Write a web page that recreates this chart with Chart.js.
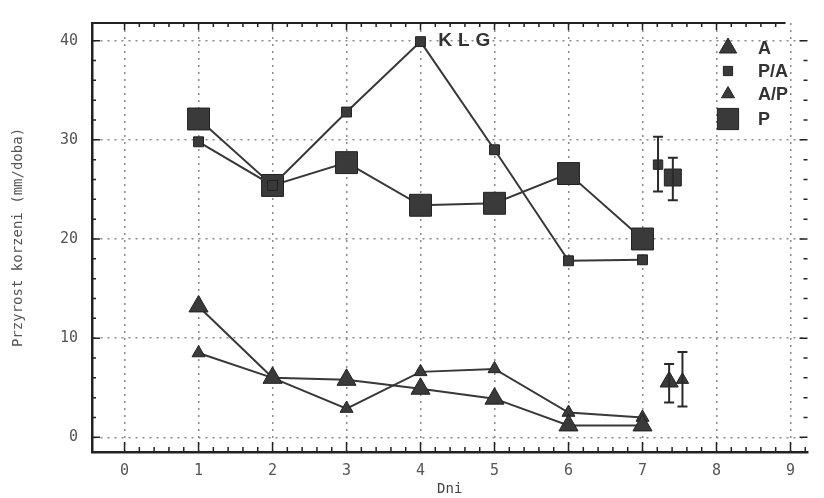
<!DOCTYPE html>
<html>
<head>
<meta charset="utf-8">
<script src="https://cdn.jsdelivr.net/npm/chart.js@4"></script>
<style>
  html, body { margin: 0; padding: 0; background: #fff; }
  #wrap { width: 824px; height: 498px; }
</style>
</head>
<body>
<div id="wrap"><canvas id="wykres"></canvas></div>
<script>
// dni pomiaru i przyrosty korzeni (mm/doba)
const dni = [1, 2, 3, 4, 5, 6, 7]
const seriaA = [13.2, 6.0, 5.8, 4.9, 3.9, 1.2, 1.2]
const seriaAP = [8.5, 6.0, 2.9, 6.6, 6.9, 2.5, 2.0]
const seriaPA = [29.8, 25.4, 32.8, 39.9, 29.0, 17.8, 17.9]
const seriaP = [32.1, 25.4, 27.7, 23.4, 23.6, 26.6, 20.0]

// średnie z odchyleniem (A, A/P, P/A, P)
const srednieX = [7.36, 7.54, 7.21, 7.41]
const srednieY = [5.6, 5.8, 27.5, 26.2]
const srednieMin = [3.5, 3.1, 24.8, 23.9]
const srednieMax = [7.4, 8.6, 30.3, 28.2]

const tickiX = [0, 1, 2, 3, 4, 5, 6, 7, 8, 9]
const tickiY = [0, 10, 20, 30, 40]

const kolorLinii = '#383838'
const kolorPunktu = '#3a3a3a'

const styleSerii = {
  A: { pointStyle: 'triangle', radius: 11 },
  AP: { pointStyle: 'triangle', radius: 7.5 },
  PA: { pointStyle: 'rect', radius: 7 },
  P: { pointStyle: 'rect', radius: 15.5 }
}

function punkty(wartosci) {
  return dni.map((d, i) => ({ x: d, y: wartosci[i] }))
}

function seria(etykieta, wartosci, styl) {
  return {
    label: etykieta,
    data: punkty(wartosci),
    showLine: true,
    borderColor: kolorLinii,
    borderWidth: 2,
    pointStyle: styl.pointStyle,
    pointRadius: styl.radius,
    pointBackgroundColor: kolorPunktu,
    pointBorderColor: '#222',
    pointBorderWidth: 1
  }
}

const stylePoKolei = [styleSerii.A, styleSerii.AP, styleSerii.PA, styleSerii.P]

const srednie = srednieX.map((x, i) => ({
  label: 'srednia' + i,
  data: [{ x, y: srednieY[i] }],
  showLine: false,
  pointStyle: stylePoKolei[i].pointStyle,
  pointRadius: i === 3 ? 12 : stylePoKolei[i].radius * 0.95,
  pointBackgroundColor: kolorPunktu,
  pointBorderColor: '#222',
  pointBorderWidth: 1
}))

// ramka, drobne kreski osi, słupki odchyleń, tytuł i legenda
const dodatki = {
  id: 'dodatki',
  beforeDatasetsDraw(chart) {
    const { ctx, chartArea, scales } = chart
    const sx = scales.x
    const sy = scales.y
    ctx.save()
    ctx.strokeStyle = '#222'
    ctx.lineWidth = 2
    ctx.beginPath()
    ctx.moveTo(chartArea.left, chartArea.top)
    ctx.lineTo(chartArea.right - 22, chartArea.top)
    ctx.stroke()

    ctx.lineWidth = 1.5
    ctx.beginPath()
    for (let v = 0; v <= 9.2; v += 0.2) {
      const x = sx.getPixelForValue(v)
      const glowna = Math.abs(v - Math.round(v)) < 0.01
      const dl = glowna ? 10 : 5
      ctx.moveTo(x, chartArea.bottom)
      ctx.lineTo(x, chartArea.bottom - dl)
      if (x < chartArea.right - 22) {
        ctx.moveTo(x, chartArea.top)
        ctx.lineTo(x, chartArea.top + (glowna ? 7 : 4))
      }
    }
    for (let v = 0; v <= 40; v += 2) {
      const y = sy.getPixelForValue(v)
      const dl = v % 10 === 0 ? 8 : 4
      ctx.moveTo(chartArea.left, y)
      ctx.lineTo(chartArea.left + dl, y)
      ctx.moveTo(chartArea.right, y)
      ctx.lineTo(chartArea.right - dl, y)
    }
    ctx.stroke()
    ctx.restore()
  },
  afterDatasetsDraw(chart) {
    const { ctx, scales } = chart
    const sx = scales.x
    const sy = scales.y
    ctx.save()
    ctx.strokeStyle = '#2a2a2a'
    ctx.lineWidth = 2
    srednieX.forEach((v, i) => {
      const x = sx.getPixelForValue(v)
      const y1 = sy.getPixelForValue(srednieMin[i])
      const y2 = sy.getPixelForValue(srednieMax[i])
      ctx.beginPath()
      ctx.moveTo(x, y1)
      ctx.lineTo(x, y2)
      ctx.moveTo(x - 5, y1)
      ctx.lineTo(x + 5, y1)
      ctx.moveTo(x - 5, y2)
      ctx.lineTo(x + 5, y2)
      ctx.stroke()
    })

    ctx.fillStyle = '#333'
    ctx.font = 'bold 19px "Liberation Sans", Arial, sans-serif'
    ctx.textBaseline = 'middle'
    ctx.textAlign = 'left'
    let xt = sx.getPixelForValue(4.24)
    for (const litera of ['K', 'L', 'G']) {
      ctx.fillText(litera, xt, sy.getPixelForValue(40))
      xt += ctx.measureText(litera).width + 6
    }

    const legenda = [
      { tekst: 'A', styl: styleSerii.A, r: 10 },
      { tekst: 'P/A', styl: styleSerii.PA, r: 6.5 },
      { tekst: 'A/P', styl: styleSerii.AP, r: 7.5 },
      { tekst: 'P', styl: styleSerii.P, r: 15 }
    ]
    const wiersze = [48, 71, 94, 119]
    ctx.font = 'bold 18px "Liberation Sans", Arial, sans-serif'
    legenda.forEach((el, i) => {
      ctx.fillStyle = kolorPunktu
      ctx.strokeStyle = '#222'
      ctx.lineWidth = 1
      Chart.helpers.drawPoint(ctx, { pointStyle: el.styl.pointStyle, radius: el.r, borderWidth: 1 }, 728, wiersze[i])
      ctx.fillStyle = '#333'
      ctx.fillText(el.tekst, 758, wiersze[i] + 1)
    })
    ctx.restore()
  }
}

const czcionkaOsi = { family: '"DejaVu Sans Mono", monospace', size: 15 }

new Chart(document.getElementById('wykres'), {
  type: 'scatter',
  data: {
    datasets: [
      seria('A', seriaA, styleSerii.A),
      seria('A/P', seriaAP, styleSerii.AP),
      seria('P/A', seriaPA, styleSerii.PA),
      seria('P', seriaP, styleSerii.P),
      ...srednie
    ]
  },
  options: {
    responsive: true,
    maintainAspectRatio: false,
    animation: false,
    layout: { padding: { left: 0, right: 4, top: 14, bottom: 0 } },
    plugins: {
      legend: { display: false },
      tooltip: { enabled: false }
    },
    scales: {
      x: {
        type: 'linear',
        min: -0.44,
        max: 9.23,
        afterBuildTicks: (scale) => { scale.ticks = tickiX.map((v) => ({ value: v })) },
        afterFit: (scale) => { scale.height = 46 },
        ticks: { color: '#555', font: czcionkaOsi, padding: 10, maxRotation: 0 },
        grid: { color: '#8a8a8a', lineWidth: 1.5, drawTicks: false },
        border: { display: true, color: '#222', width: 2.5, dash: [2, 5] },
        title: {
          display: true,
          text: 'Dni',
          color: '#444',
          font: { family: '"DejaVu Sans Mono", monospace', size: 14 },
          padding: { top: 0, bottom: 0 }
        }
      },
      y: {
        type: 'linear',
        min: -1.48,
        max: 41.78,
        afterBuildTicks: (scale) => { scale.ticks = tickiY.map((v) => ({ value: v })) },
        afterFit: (scale) => { scale.width = 92 },
        ticks: { color: '#555', font: czcionkaOsi, padding: 14 },
        grid: { color: '#8a8a8a', lineWidth: 1.5, drawTicks: false },
        border: { display: true, color: '#222', width: 2.5, dash: [2, 5] },
        title: {
          display: true,
          text: 'Przyrost korzeni (mm/doba)',
          color: '#555',
          font: { family: '"DejaVu Sans Mono", monospace', size: 14 },
          padding: { top: 10, bottom: 0 }
        }
      }
    }
  },
  plugins: [dodatki]
})
</script>
</body>
</html>
